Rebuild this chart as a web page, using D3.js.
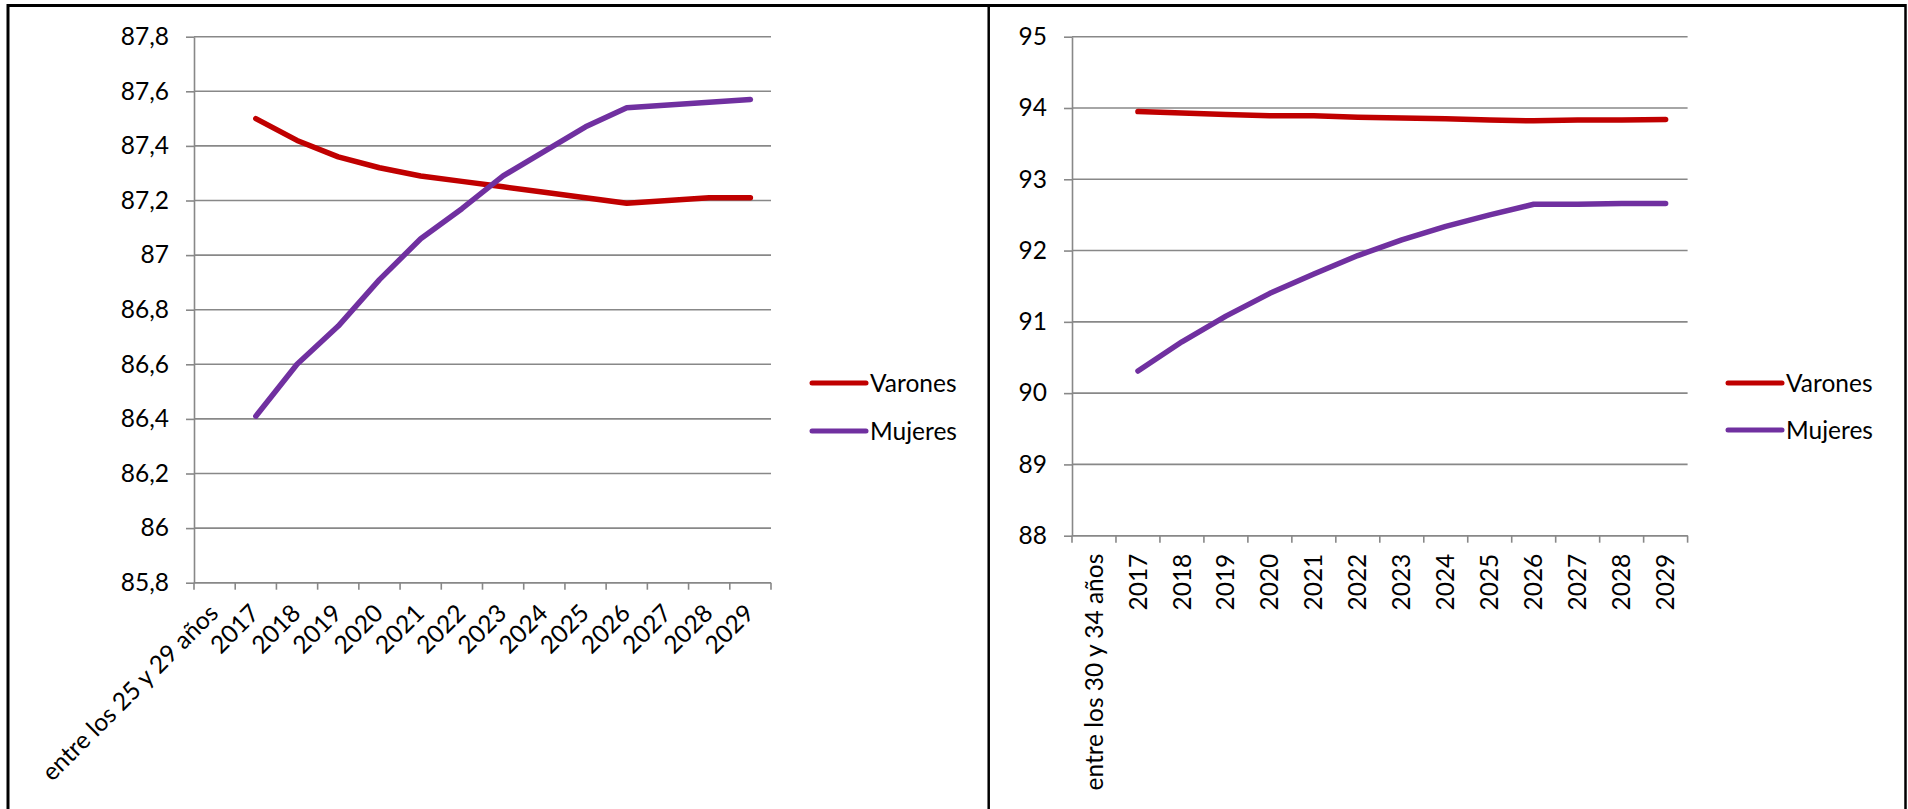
<!DOCTYPE html>
<html>
<head>
<meta charset="utf-8">
<script src="https://cdn.jsdelivr.net/npm/d3@7"></script>
<style>
  html, body { margin: 0; padding: 0; background: #fff; }
  svg { display: block; }
  text { font-family: Lato, "Open Sans", "Noto Sans", sans-serif; fill: #000; }
</style>
</head>
<body>
<svg id="chart" width="1908" height="809"></svg>
<script>
// Series: share (%) by year, two age groups, men vs women
const years = ["2017","2018","2019","2020","2021","2022","2023","2024","2025","2026","2027","2028","2029"];

const groupLabel25 = "entre los 25 y 29 años";
const groupLabel30 = "entre los 30 y 34 años";

const varones25 = [87.50, 87.42, 87.36, 87.32, 87.29, 87.27, 87.25, 87.23, 87.21, 87.19, 87.20, 87.21, 87.21];
const mujeres25 = [86.41, 86.60, 86.74, 86.91, 87.06, 87.17, 87.29, 87.38, 87.47, 87.54, 87.55, 87.56, 87.57];

const varones30 = [93.95, 93.93, 93.91, 93.89, 93.89, 93.87, 93.86, 93.85, 93.83, 93.82, 93.83, 93.83, 93.84];
const mujeres30 = [90.31, 90.72, 91.08, 91.40, 91.67, 91.93, 92.15, 92.34, 92.50, 92.65, 92.65, 92.66, 92.66];

const yTicks25 = [85.8, 86, 86.2, 86.4, 86.6, 86.8, 87, 87.2, 87.4, 87.6, 87.8];
const yTicks30 = [88, 89, 90, 91, 92, 93, 94, 95];

const seriesNames = ["Varones", "Mujeres"];
const seriesColors = ["#C00000", "#7030A0"];

const FONT_SIZE = "24.5px";

const svg = d3.select("#chart");
const fmt = v => String(+v.toFixed(1)).replace(".", ",");

function drawPanel(opt) {
  const cats = [opt.groupLabel].concat(years);
  const x = d3.scaleBand().domain(cats).range([opt.x0, opt.x1]).padding(0);
  const y = d3.scaleLinear().domain(opt.domain).range([opt.y0, opt.y1]);
  const g = svg.append("g");

  // horizontal gridlines
  g.append("g").selectAll("line").data(opt.yTicks).join("line")
    .attr("x1", opt.x0).attr("x2", opt.x1)
    .attr("y1", d => y(d)).attr("y2", d => y(d))
    .attr("stroke", "#888").attr("stroke-width", 1.6);

  // value axis
  const ya = g.append("g").attr("transform", `translate(${opt.x0},0)`)
    .call(d3.axisLeft(y).tickValues(opt.yTicks).tickFormat(fmt)
      .tickSizeInner(8).tickSizeOuter(0).tickPadding(17));
  ya.select(".domain").attr("stroke", "#888").attr("stroke-width", 1.6);
  ya.selectAll(".tick line").attr("stroke", "#888").attr("stroke-width", 1.6);
  ya.selectAll(".tick text").style("font-size", FONT_SIZE)
    .style("font-family", "Lato, 'Open Sans', sans-serif").attr("fill", "#000");

  // category axis: line and tick marks at the band edges
  const edges = cats.map(c => x(c)).concat([x(cats[cats.length - 1]) + x.bandwidth()]);
  g.append("line").attr("x1", opt.x0).attr("x2", opt.x1)
    .attr("y1", opt.y0).attr("y2", opt.y0)
    .attr("stroke", "#888").attr("stroke-width", 1.6);
  g.append("g").selectAll("line").data(edges).join("line")
    .attr("x1", d => d).attr("x2", d => d)
    .attr("y1", opt.y0).attr("y2", opt.y0 + 7)
    .attr("stroke", "#888").attr("stroke-width", 1.6);

  // category labels
  g.append("g").selectAll("text").data(cats).join("text")
    .attr("transform", d => {
      const cx = x(d) + x.bandwidth() / 2;
      return opt.rotate === -45
        ? `translate(${cx - 1},${opt.y0 + 26}) rotate(-45)`
        : `translate(${cx},${opt.y0 + 18}) rotate(-90)`;
    })
    .attr("text-anchor", "end")
    .attr("dy", "0.35em")
    .style("font-size", FONT_SIZE)
    .text(d => d);

  // series lines
  const line = d3.line()
    .x((d, i) => x(years[i]) + x.bandwidth() / 2)
    .y(d => y(d));
  [opt.varones, opt.mujeres].forEach((vals, k) => {
    g.append("path").datum(vals)
      .attr("d", line)
      .attr("fill", "none")
      .attr("stroke", seriesColors[k])
      .attr("stroke-width", 5.5)
      .attr("stroke-linejoin", "round")
      .attr("stroke-linecap", "round");
  });

  // legend
  const lg = g.append("g");
  seriesNames.forEach((name, k) => {
    const ly = opt.legendY[k];
    lg.append("line")
      .attr("x1", opt.legendX).attr("x2", opt.legendX + 54)
      .attr("y1", ly).attr("y2", ly)
      .attr("stroke", seriesColors[k]).attr("stroke-width", 5)
      .attr("stroke-linecap", "round");
    lg.append("text")
      .attr("x", opt.legendX + 58).attr("y", ly)
      .attr("dy", "0.35em")
      .style("font-size", FONT_SIZE)
      .text(name);
  });
}

drawPanel({
  groupLabel: groupLabel25, varones: varones25, mujeres: mujeres25,
  domain: [85.8, 87.8], yTicks: yTicks25,
  x0: 194, x1: 771, y0: 582.7, y1: 36.7, rotate: -45,
  legendX: 812, legendY: [383, 431]
});

drawPanel({
  groupLabel: groupLabel30, varones: varones30, mujeres: mujeres30,
  domain: [88, 95], yTicks: yTicks30,
  x0: 1072, x1: 1687.6, y0: 535.7, y1: 36.7, rotate: -90,
  legendX: 1728, legendY: [383, 430]
});

// frame around both panels and the divider between them
svg.append("line").attr("x1", 8).attr("x2", 1906).attr("y1", 5.5).attr("y2", 5.5)
  .attr("stroke", "#000").attr("stroke-width", 3);
svg.append("line").attr("x1", 8).attr("x2", 8).attr("y1", 4).attr("y2", 809)
  .attr("stroke", "#000").attr("stroke-width", 3);
svg.append("line").attr("x1", 988.7).attr("x2", 988.7).attr("y1", 4).attr("y2", 809)
  .attr("stroke", "#000").attr("stroke-width", 2.5);
svg.append("line").attr("x1", 1905.5).attr("x2", 1905.5).attr("y1", 4).attr("y2", 809)
  .attr("stroke", "#000").attr("stroke-width", 2.5);
</script>
</body>
</html>
